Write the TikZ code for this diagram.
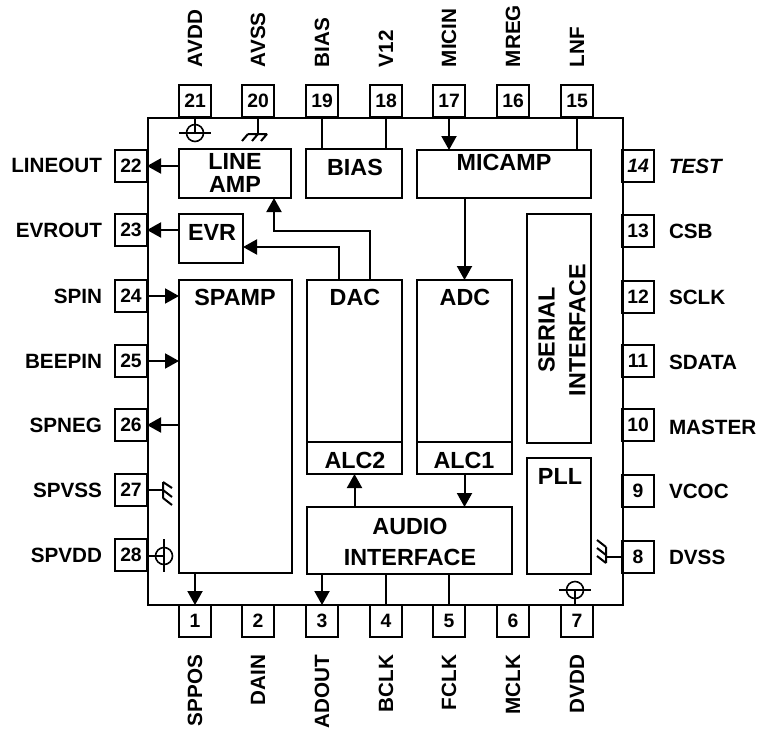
\documentclass[tikz,border=0pt]{standalone}
\usepackage{fontspec}
\setmainfont{Liberation Sans}
\usetikzlibrary{calc,positioning,arrows.meta}
\tikzset{
	sig/.style={-{Stealth[inset=0pt,length=10.5pt,width=11.25pt]}},
	block/.style={draw,line width=1.5pt,inner sep=0pt,outer sep=0pt},
	pinbox/.style={draw,line width=1.5pt,minimum size=24pt,inner sep=0pt,outer sep=0pt,font=\fontsize{14.5}{15}\selectfont\bfseries},
	pintext/.style={inner sep=0pt,font=\fontsize{15.5}{15.5}\selectfont\bfseries},
	toptext/.style={pintext,rotate=90,anchor=west},
	bottext/.style={pintext,rotate=90,anchor=east},
	title/.style={inner sep=0pt,align=center,font=\fontsize{17.5}{23}\selectfont\bfseries},
	supply/.style={circle,draw,line width=1.2pt,minimum size=12.75pt,inner sep=0pt,outer sep=0pt},
}

\begin{document}
\begin{tikzpicture}[x=0.75pt,y=-0.75pt,line width=1.5pt]
	\useasboundingbox (0,0) rectangle (773,728);
	% package outline
	\node[block,minimum width=356.25pt,minimum height=365.25pt] (chip) at (385,361) {};

	% pins along the top
	\node[pinbox] (p21) at (195,101) {21};
	\node[pinbox] (p20) at (258,101) {20};
	\node[pinbox] (p19) at (322,101) {19};
	\node[pinbox] (p18) at (386,101) {18};
	\node[pinbox] (p17) at (449,101) {17};
	\node[pinbox] (p16) at (513,101) {16};
	\node[pinbox] (p15) at (577,101) {15};
	\node[toptext] (lavdd) at (195,68) {AVDD};
	\node[toptext] (lavss) at (258,68) {AVSS};
	\node[toptext] (lbias) at (322,68) {BIAS};
	\node[toptext] (lvtw) at (386,68) {V12};
	\node[toptext] (lmicin) at (449,68) {MICIN};
	\node[toptext] (lmreg) at (513,68) {MREG};
	\node[toptext] (llnf) at (577,68) {LNF};

	% pins down the left side
	\node[pinbox] (p22) at (131,166) {22};
	\node[pinbox] (p23) at (131,230) {23};
	\node[pinbox] (p24) at (131,296) {24};
	\node[pinbox] (p25) at (131,361) {25};
	\node[pinbox] (p26) at (131,425) {26};
	\node[pinbox] (p27) at (131,490) {27};
	\node[pinbox] (p28) at (131,555) {28};
	\node[pintext,anchor=east] (llineout) at (103,165) {LINEOUT};
	\node[pintext,anchor=east] (levrout) at (103,230) {EVROUT};
	\node[pintext,anchor=east] (lspin) at (103,296) {SPIN};
	\node[pintext,anchor=east] (lbeepin) at (103,361) {BEEPIN};
	\node[pintext,anchor=east] (lspneg) at (103,425) {SPNEG};
	\node[pintext,anchor=east] (lspvss) at (103,490) {SPVSS};
	\node[pintext,anchor=east] (lspvdd) at (103,555) {SPVDD};

	% pins along the bottom
	\node[pinbox] (p1) at (195,621) {1};
	\node[pinbox] (p2) at (258,621) {2};
	\node[pinbox] (p3) at (322,621) {3};
	\node[pinbox] (p4) at (386,621) {4};
	\node[pinbox] (p5) at (449,621) {5};
	\node[pinbox] (p6) at (513,621) {6};
	\node[pinbox] (p7) at (577,621) {7};
	\node[bottext] (lsppos) at (195,654) {SPPOS};
	\node[bottext] (ldain) at (258,654) {DAIN};
	\node[bottext] (ladout) at (322,654) {ADOUT};
	\node[bottext] (lbclk) at (386,654) {BCLK};
	\node[bottext] (lfclk) at (449,654) {FCLK};
	\node[bottext] (lmclk) at (513,654) {MCLK};
	\node[bottext] (ldvdd) at (577,654) {DVDD};

	% pins up the right side
	\node[pinbox] (p8) at (638,557) {8};
	\node[pinbox] (p9) at (638,491) {9};
	\node[pinbox] (p10) at (638,425) {10};
	\node[pinbox] (p11) at (638,361) {11};
	\node[pinbox] (p12) at (638,297) {12};
	\node[pinbox] (p13) at (638,231) {13};
	\node[pinbox] (p14) at (638,166) {\itshape 14};
	\node[pintext,anchor=west] (ldvss) at (668,557) {DVSS};
	\node[pintext,anchor=west] (lvcoc) at (668,491) {VCOC};
	\node[pintext,anchor=west] (lmaster) at (668,427) {MASTER};
	\node[pintext,anchor=west] (lsdata) at (668,362) {SDATA};
	\node[pintext,anchor=west] (lsclk) at (668,297) {SCLK};
	\node[pintext,anchor=west] (lcsb) at (668,231) {CSB};
	\node[pintext,anchor=west] (ltest) at (668,166) {\itshape TEST};

	% blocks
	\node[block,minimum width=84pt,minimum height=36.75pt] (lineamp) at (235,173.5) {};
	\node[block,minimum width=72pt,minimum height=36.75pt] (bias) at (354,173.5) {};
	\node[block,minimum width=130.5pt,minimum height=36pt] (micamp) at (504,174) {};
	\node[block,minimum width=48pt,minimum height=36.75pt] (evr) at (211,238.5) {};
	\node[block,minimum width=84.75pt,minimum height=219.75pt] (spamp) at (235.5,426.5) {};
	\node[block,minimum width=71.25pt,minimum height=121.5pt] (dac) at (354.5,361) {};
	\node[block,minimum width=71.25pt,minimum height=24pt] (alctwo) at (354.5,458) {};
	\node[block,minimum width=71.25pt,minimum height=121.5pt] (adc) at (464.5,361) {};
	\node[block,minimum width=71.25pt,minimum height=24pt] (alcone) at (464.5,458) {};
	\node[block,minimum width=48pt,minimum height=171.75pt] (serial) at (559,328.5) {};
	\node[block,minimum width=48pt,minimum height=87pt] (pll) at (559,516) {};
	\node[block,minimum width=153.75pt,minimum height=50.25pt] (audio) at (409.5,540.5) {};

	% block titles
	\node[title] (tlineamp) at (235,173) {LINE\\[-5.75pt]AMP};
	\node[title] (tbias) at (355,167) {BIAS};
	\node[title] (tmicamp) at (504,162) {MICAMP};
	\node[title] (tevr) at (212,232) {EVR};
	\node[title] (tspamp) at (235,297) {SPAMP};
	\node[title] (tdac) at (355,297) {DAC};
	\node[title] (talctwo) at (355,460) {ALC2};
	\node[title] (tadc) at (465,297) {ADC};
	\node[title] (talcone) at (464,460) {ALC1};
	\node[title,rotate=90] (tserial) at (562,330) {SERIAL\\INTERFACE};
	\node[title] (tpll) at (560,476) {PLL};
	\node[title] (taudio) at (410,542) {AUDIO\\INTERFACE};

	% signal paths
	\draw[sig] (p22 -| lineamp.west) -- (p22.east);
	\draw[sig] (p23 -| evr.west) -- (p23.east);
	\draw[sig] (p24.east) -- (p24 -| spamp.west);
	\draw[sig] (p25.east) -- (p25 -| spamp.west);
	\draw[sig] (p26 -| spamp.west) -- (p26.east);
	\draw[sig] (p17.south) -- (p17 |- micamp.north);
	\draw (p15.south) -- (p15 |- micamp.north);
	\draw (p19.south) -- (p19 |- bias.north);
	\draw (p18.south) -- (p18 |- bias.north);
	\draw[sig] (micamp.south -| adc.north) -- (adc.north);
	\draw[sig] (339,280) |- (evr.east |- 0,247);
	\draw[sig] (370,280) |- (274,231) -- (274,198);
	\draw[sig] (audio.north -| alctwo.south) -- (alctwo.south);
	\draw[sig] (alcone.south) -- (alcone.south |- audio.north);
	\draw[sig] (spamp.south -| p1) -- (p1.north);
	\draw[sig] (audio.south -| p3) -- (p3.north);
	\draw (audio.south -| p4) -- (p4.north);
	\draw (audio.south -| p5) -- (p5.north);

	% supply pins
	\node[supply] (vddtop) at (195,133) {};
	\draw (p21.south) -- (vddtop.center);
	\draw (179,133) -- (211,133);
	\node[supply] (vddleft) at (164,556) {};
	\draw (p28.east |- vddleft) -- (vddleft.center);
	\draw (164,539) -- (164,572);
	\node[supply] (vddbot) at (575,590) {};
	\draw (p7.north -| vddbot) -- (vddbot.center);
	\draw (559,590) -- (591,590);

	% ground pins
	\coordinate (gndtop) at (258,134);
	\draw (p20.south) -- (gndtop);
	\draw (248,134) -- (267,134) (248,134) -- +(-6,7) (258,134) -- +(-6,7) (267,134) -- +(-6,7);
	\coordinate (gndleft) at (163,490);
	\draw (p27.east) -- (gndleft);
	\draw (163,482) -- (163,498) (163,482) -- +(9,6) (163,490) -- +(9,7) (163,498) -- +(9,7);
	\coordinate (gndright) at (606,557);
	\draw (p8.west) -- (gndright);
	\draw (606,547) -- (606,563) (606,547) -- +(-9,-7) (606,555) -- +(-9,-7) (606,563) -- +(-9,-7);
\end{tikzpicture}
\end{document}
